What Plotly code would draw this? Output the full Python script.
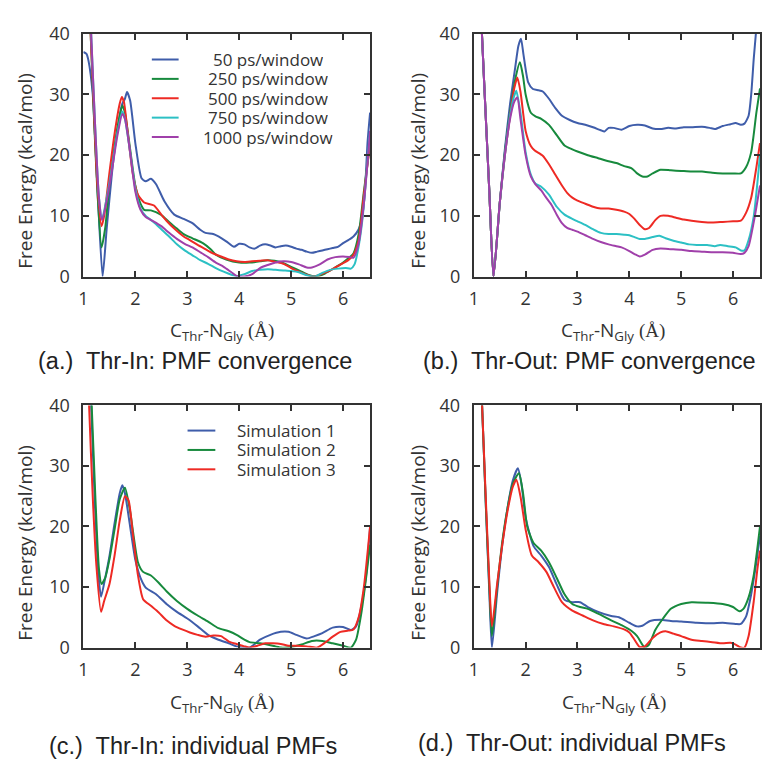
import plotly.graph_objects as go

# ---------------- data ----------------
# Panel (a) Thr-In: PMF convergence
a50_x = [1.0, 1.06, 1.1, 1.18, 1.28, 1.37, 1.45, 1.55, 1.65, 1.75, 1.8, 1.84, 1.9, 2.0, 2.12, 2.2, 2.3, 2.4, 2.56, 2.75, 2.93, 3.1, 3.25, 3.35, 3.5, 3.6, 3.75, 3.9, 4.0, 4.1, 4.2, 4.3, 4.4, 4.5, 4.6, 4.7, 4.8, 4.9, 5.0, 5.1, 5.2, 5.3, 5.4, 5.5, 5.6, 5.7, 5.8, 5.9, 6.0, 6.1, 6.2, 6.3, 6.36, 6.42, 6.47, 6.52]
a50_y = [37.0, 36.7, 35.5, 30.0, 13.0, 0.0, 8.0, 17.0, 24.0, 28.5, 29.3, 30.4, 29.0, 22.0, 16.2, 15.7, 16.1, 15.2, 12.4, 10.2, 9.5, 8.8, 7.7, 7.2, 7.0, 6.6, 5.8, 4.9, 5.4, 5.3, 4.8, 4.6, 5.1, 5.3, 5.1, 4.8, 5.0, 5.1, 4.9, 4.6, 4.4, 4.1, 3.9, 4.1, 4.3, 4.5, 4.7, 4.9, 5.5, 6.0, 6.6, 7.8, 9.5, 14.0, 22.0, 27.0]

a250_x = [1.1, 1.14, 1.2, 1.27, 1.35, 1.42, 1.5, 1.6, 1.7, 1.75, 1.8, 1.9, 2.0, 2.1, 2.17, 2.3, 2.49, 2.65, 2.8, 2.93, 3.1, 3.3, 3.45, 3.55, 3.75, 4.0, 4.2, 4.4, 4.55, 4.8, 5.0, 5.2, 5.35, 5.5, 5.65, 5.85, 6.0, 6.1, 6.2, 6.3, 6.4, 6.52]
a250_y = [46.0, 40.0, 27.0, 14.0, 4.8, 8.0, 15.0, 21.5, 26.5, 28.2, 27.0, 21.0, 15.0, 12.0, 11.0, 10.9, 10.2, 9.0, 7.9, 7.0, 6.3, 5.5, 4.5, 3.6, 2.8, 2.3, 2.3, 2.5, 2.7, 2.4, 1.6, 0.8, 0.2, 0.0, 0.5, 1.5, 2.3, 3.0, 3.8, 7.0, 14.0, 22.0]

a500_x = [1.1, 1.14, 1.2, 1.27, 1.35, 1.4, 1.5, 1.6, 1.7, 1.74, 1.78, 1.85, 1.95, 2.05, 2.17, 2.36, 2.5, 2.6, 2.75, 2.93, 3.05, 3.2, 3.35, 3.5, 3.65, 3.8, 3.95, 4.1, 4.25, 4.4, 4.55, 4.7, 4.85, 5.0, 5.15, 5.3, 5.42, 5.55, 5.7, 5.85, 6.0, 6.1, 6.2, 6.3, 6.4, 6.52]
a500_y = [46.0, 40.0, 28.0, 15.0, 8.3, 10.0, 17.0, 23.5, 28.5, 29.6, 28.8, 24.0, 17.0, 13.5, 12.2, 11.7, 10.2, 9.2, 7.9, 6.6, 6.0, 5.2, 4.5, 3.8, 3.3, 2.8, 2.5, 2.4, 2.5, 2.6, 2.7, 2.4, 2.1, 1.4, 0.8, 0.3, 0.0, 0.3, 0.8, 1.5, 2.2, 2.7, 3.6, 6.0, 13.5, 22.0]

a750_x = [1.12, 1.15, 1.22, 1.3, 1.36, 1.45, 1.55, 1.65, 1.75, 1.8, 1.9, 2.0, 2.1, 2.2, 2.35, 2.5, 2.65, 2.8, 2.95, 3.1, 3.25, 3.4, 3.55, 3.7, 3.85, 3.95, 4.1, 4.25, 4.4, 4.55, 4.7, 4.85, 5.0, 5.15, 5.3, 5.45, 5.6, 5.75, 5.9, 6.05, 6.15, 6.22, 6.3, 6.38, 6.45, 6.52]
a750_y = [46.0, 40.0, 26.0, 13.0, 9.5, 13.0, 18.0, 23.5, 27.2, 26.0, 20.5, 14.5, 11.2, 10.0, 9.0, 7.8, 6.6, 5.3, 4.3, 3.5, 2.7, 2.1, 1.4, 0.8, 0.3, 0.1, 0.4, 0.9, 1.1, 1.2, 1.1, 1.0, 0.9, 0.7, 0.2, 0.0, 0.6, 1.1, 1.3, 1.4, 1.3, 2.0, 5.0, 10.0, 17.0, 24.0]

a1000_x = [1.12, 1.15, 1.22, 1.3, 1.36, 1.45, 1.55, 1.65, 1.75, 1.8, 1.9, 2.0, 2.1, 2.2, 2.35, 2.5, 2.65, 2.8, 2.95, 3.1, 3.25, 3.4, 3.55, 3.7, 3.85, 3.95, 4.1, 4.25, 4.4, 4.55, 4.7, 4.85, 5.0, 5.15, 5.3, 5.4, 5.55, 5.7, 5.85, 6.0, 6.12, 6.2, 6.3, 6.4, 6.52]
a1000_y = [46.0, 40.0, 26.0, 13.0, 9.3, 12.5, 17.5, 23.0, 26.8, 26.0, 20.5, 14.0, 11.0, 9.8, 9.1, 8.3, 7.2, 6.2, 5.4, 4.8, 4.0, 3.2, 2.3, 1.6, 0.7, 0.1, 0.0, 0.4, 1.4, 1.9, 2.3, 2.5, 2.4, 2.0, 1.5, 1.5, 2.0, 2.8, 3.2, 3.3, 3.2, 3.1, 5.5, 12.0, 24.0]

# Panel (b) Thr-Out: PMF convergence
b50_x = [1.12, 1.2, 1.3, 1.38, 1.5, 1.6, 1.7, 1.8, 1.86, 1.91, 1.96, 2.05, 2.14, 2.25, 2.33, 2.45, 2.57, 2.7, 2.85, 3.0, 3.15, 3.3, 3.45, 3.52, 3.6, 3.7, 3.85, 4.0, 4.15, 4.3, 4.45, 4.6, 4.75, 4.9, 5.05, 5.2, 5.4, 5.55, 5.65, 5.8, 5.95, 6.05, 6.15, 6.22, 6.3, 6.35, 6.4, 6.45]
b50_y = [47.0, 32.0, 14.0, 0.0, 12.0, 21.0, 28.5, 34.5, 38.0, 39.2, 36.5, 32.0, 30.9, 30.7, 30.5, 29.3, 27.8, 26.5, 25.8, 25.3, 25.0, 24.6, 24.1, 23.9, 24.5, 24.5, 24.2, 24.8, 25.0, 24.9, 24.4, 24.3, 24.5, 24.4, 24.6, 24.6, 24.7, 24.5, 24.3, 24.8, 25.1, 25.3, 25.0, 25.2, 26.5, 30.0, 36.0, 41.0]

b250_x = [1.12, 1.2, 1.3, 1.38, 1.5, 1.6, 1.7, 1.8, 1.89, 1.95, 2.0, 2.1, 2.19, 2.3, 2.45, 2.6, 2.75, 2.89, 3.0, 3.2, 3.4, 3.6, 3.75, 3.9, 4.05, 4.15, 4.25, 4.35, 4.45, 4.6, 4.8, 5.0, 5.2, 5.4, 5.6, 5.8, 6.0, 6.15, 6.25, 6.35, 6.45, 6.52]
b250_y = [47.0, 32.0, 14.0, 0.0, 12.0, 20.5, 27.0, 32.5, 35.3, 33.0, 30.0, 27.0, 26.4, 26.0, 25.0, 23.3, 21.6, 21.0, 20.6, 20.0, 19.5, 19.0, 18.7, 18.2, 17.8, 17.0, 16.5, 16.5, 17.0, 17.6, 17.5, 17.4, 17.3, 17.3, 17.1, 17.0, 17.0, 17.0, 18.0, 20.5, 27.0, 31.0]

b500_x = [1.12, 1.2, 1.3, 1.38, 1.5, 1.6, 1.7, 1.78, 1.84, 1.9, 2.0, 2.1, 2.17, 2.33, 2.45, 2.57, 2.7, 2.8, 2.9, 3.0, 3.15, 3.3, 3.45, 3.6, 3.75, 3.9, 4.0, 4.1, 4.2, 4.3, 4.38, 4.5, 4.6, 4.75, 4.9, 5.05, 5.2, 5.4, 5.6, 5.8, 6.0, 6.15, 6.25, 6.35, 6.45, 6.52]
b500_y = [47.0, 32.0, 14.0, 0.0, 12.0, 20.0, 26.5, 31.0, 32.8, 30.5, 24.0, 21.5, 20.8, 19.9, 18.5, 16.8, 15.0, 13.8, 13.0, 12.5, 12.0, 11.5, 11.2, 11.2, 11.0, 10.7, 10.3, 9.5, 8.5, 7.8, 8.0, 9.3, 10.0, 10.0, 9.7, 9.4, 9.2, 9.0, 8.9, 9.0, 9.1, 9.2, 10.5, 13.0, 18.0, 22.0]

b750_x = [1.12, 1.2, 1.3, 1.38, 1.5, 1.6, 1.7, 1.77, 1.82, 1.9, 2.0, 2.1, 2.19, 2.3, 2.45, 2.6, 2.75, 2.9, 3.0, 3.15, 3.3, 3.45, 3.6, 3.75, 3.9, 4.0, 4.1, 4.2, 4.3, 4.45, 4.58, 4.7, 4.85, 5.0, 5.15, 5.3, 5.5, 5.65, 5.75, 5.9, 6.05, 6.15, 6.22, 6.3, 6.4, 6.52]
b750_y = [47.0, 32.0, 14.0, 0.0, 12.0, 20.0, 26.5, 29.5, 30.6, 27.0, 20.5, 16.8, 15.3, 14.8, 13.5, 11.5, 10.2, 9.5, 9.1, 8.5, 7.8, 7.2, 7.0, 7.0, 6.9, 6.8, 6.5, 6.2, 6.2, 6.5, 6.7, 6.3, 5.9, 5.6, 5.3, 5.2, 5.2, 5.0, 5.2, 5.0, 4.8, 4.3, 4.3, 6.0, 10.0, 20.0]

b1000_x = [1.12, 1.2, 1.3, 1.38, 1.5, 1.6, 1.7, 1.78, 1.84, 1.9, 2.0, 2.1, 2.19, 2.3, 2.38, 2.5, 2.6, 2.7, 2.8, 2.9, 3.0, 3.15, 3.3, 3.45, 3.6, 3.75, 3.85, 4.0, 4.1, 4.2, 4.3, 4.45, 4.6, 4.8, 5.0, 5.2, 5.4, 5.6, 5.8, 6.0, 6.15, 6.22, 6.3, 6.4, 6.52]
b1000_y = [47.0, 32.0, 14.0, 0.0, 12.0, 20.0, 26.0, 28.8, 29.5, 26.0, 20.0, 16.5, 15.2, 14.2, 13.2, 11.8, 10.2, 8.8, 8.0, 7.7, 7.4, 6.8, 6.2, 5.7, 5.3, 5.0, 4.8, 4.2, 3.7, 3.3, 3.6, 4.4, 4.6, 4.5, 4.4, 4.2, 4.1, 4.0, 4.0, 3.9, 3.7, 3.9, 5.0, 9.0, 15.0]

# Panel (c) Thr-In: individual PMFs
c1_x = [1.12, 1.15, 1.22, 1.29, 1.34, 1.42, 1.5, 1.6, 1.7, 1.75, 1.8, 1.9, 2.0, 2.1, 2.2, 2.4, 2.6, 2.8, 3.0, 3.2, 3.4, 3.6, 3.8, 3.95, 4.2, 4.4, 4.6, 4.8, 4.95, 5.1, 5.3, 5.45, 5.6, 5.8, 6.0, 6.15, 6.25, 6.35, 6.45, 6.52]
c1_y = [46.0, 40.0, 24.0, 12.0, 8.4, 11.5, 15.0, 20.5, 25.5, 26.8, 25.5, 20.0, 14.5, 11.5, 9.9, 8.8, 7.2, 5.9, 4.8, 3.5, 2.1, 1.3, 0.7, 0.2, 0.0, 1.3, 2.1, 2.6, 2.6, 2.1, 1.5, 1.9, 2.4, 3.3, 3.4, 2.9, 3.5, 6.7, 12.5, 20.0]

c2_x = [1.12, 1.16, 1.23, 1.3, 1.35, 1.42, 1.5, 1.6, 1.7, 1.8, 1.9, 2.05, 2.15, 2.3, 2.45, 2.6, 2.8, 3.0, 3.2, 3.4, 3.6, 3.8, 3.95, 4.1, 4.2, 4.4, 4.6, 4.8, 5.0, 5.2, 5.4, 5.6, 5.8, 6.0, 6.15, 6.25, 6.35, 6.45, 6.52]
c2_y = [47.0, 40.0, 25.0, 13.0, 10.5, 11.5, 14.5, 19.5, 24.5, 26.4, 22.5, 14.1, 12.5, 11.9, 10.7, 9.3, 7.7, 6.4, 5.3, 4.3, 3.2, 2.7, 2.1, 1.3, 0.9, 0.7, 0.4, 0.0, 0.1, 0.5, 1.1, 1.1, 0.7, 0.3, 0.0, 1.3, 5.6, 12.0, 17.0]

c3_x = [1.09, 1.11, 1.18, 1.25, 1.34, 1.4, 1.5, 1.6, 1.7, 1.8, 1.87, 1.95, 2.05, 2.15, 2.3, 2.45, 2.6, 2.75, 2.9, 3.05, 3.2, 3.35, 3.5, 3.65, 3.8, 3.95, 4.1, 4.2, 4.35, 4.5, 4.65, 4.8, 4.95, 5.1, 5.3, 5.5, 5.65, 5.8, 5.95, 6.1, 6.2, 6.3, 6.4, 6.52]
c3_y = [46.0, 40.0, 25.0, 13.6, 5.9, 7.7, 10.4, 15.2, 21.0, 25.0, 24.3, 18.9, 12.0, 8.0, 6.9, 5.8, 4.5, 3.6, 3.0, 2.5, 2.1, 1.8, 2.0, 1.9, 1.0, 0.6, 0.2, 0.0, 0.3, 0.7, 0.7, 0.6, 0.3, 0.3, 0.2, 0.0, 0.8, 1.8, 2.6, 2.8, 3.0, 5.0, 10.0, 20.0]

# Panel (d) Thr-Out: individual PMFs
d1_x = [1.13, 1.16, 1.23, 1.3, 1.35, 1.45, 1.55, 1.65, 1.75, 1.85, 1.92, 2.0, 2.15, 2.3, 2.45, 2.6, 2.75, 2.9, 3.05, 3.2, 3.4, 3.65, 3.8, 4.0, 4.15, 4.25, 4.4, 4.6, 4.8, 5.0, 5.3, 5.6, 5.8, 6.05, 6.15, 6.25, 6.35, 6.45, 6.52]
d1_y = [45.0, 40.0, 24.0, 9.0, 0.0, 9.0, 17.0, 23.0, 27.5, 29.6, 27.0, 21.5, 16.8, 15.2, 13.3, 10.4, 7.9, 7.5, 7.5, 6.7, 5.9, 5.2, 5.0, 4.1, 3.5, 3.6, 4.4, 4.6, 4.4, 4.3, 4.1, 4.0, 4.1, 3.9, 3.9, 5.1, 8.8, 14.1, 18.4]

d2_x = [1.13, 1.16, 1.23, 1.3, 1.35, 1.45, 1.55, 1.65, 1.75, 1.87, 1.95, 2.03, 2.15, 2.3, 2.45, 2.6, 2.75, 2.9, 3.05, 3.2, 3.4, 3.65, 3.85, 4.05, 4.15, 4.25, 4.3, 4.38, 4.5, 4.65, 4.8, 5.0, 5.2, 5.5, 5.8, 6.0, 6.12, 6.2, 6.3, 6.4, 6.52]
d2_y = [45.0, 40.0, 24.0, 10.0, 1.9, 10.0, 17.5, 23.0, 27.0, 28.8, 25.5, 20.0, 17.3, 16.0, 14.1, 11.5, 8.8, 7.2, 6.7, 6.4, 5.6, 4.5, 3.7, 2.7, 1.9, 0.5, 0.0, 0.5, 2.9, 4.8, 6.4, 7.2, 7.5, 7.4, 7.2, 6.7, 6.0, 6.4, 8.3, 12.0, 20.0]

d3_x = [1.13, 1.16, 1.23, 1.3, 1.35, 1.45, 1.55, 1.65, 1.75, 1.82, 1.9, 2.0, 2.12, 2.25, 2.4, 2.55, 2.7, 2.9, 3.1, 3.3, 3.5, 3.7, 3.9, 4.0, 4.1, 4.2, 4.3, 4.45, 4.6, 4.7, 4.85, 5.0, 5.2, 5.4, 5.6, 5.8, 5.95, 6.05, 6.15, 6.22, 6.3, 6.4, 6.47, 6.52]
d3_y = [46.0, 40.0, 25.0, 11.0, 3.5, 10.5, 17.0, 22.5, 26.5, 27.7, 25.0, 19.5, 15.2, 14.1, 12.5, 9.9, 7.5, 6.1, 5.3, 4.5, 3.9, 3.5, 3.0, 2.5, 1.3, 0.1, 0.2, 1.6, 2.5, 2.7, 2.3, 1.9, 1.3, 1.1, 0.9, 0.7, 0.8, 0.5, 0.0, 0.0, 1.9, 7.7, 13.0, 16.0]

conv_labels = ["50 ps/window", "250 ps/window", "500 ps/window", "750 ps/window", "1000 ps/window"]
sim_labels = ["Simulation 1", "Simulation 2", "Simulation 3"]
captions = ["(a.)  Thr-In: PMF convergence", "(b.)  Thr-Out: PMF convergence",
            "(c.)  Thr-In: individual PMFs", "(d.)  Thr-Out: individual PMFs"]
x_ticks = [1, 2, 3, 4, 5, 6]
y_ticks = [0, 10, 20, 30, 40]

# ---------------- styling ----------------
W, H = 762, 770
BLUE, GREEN, RED, CYAN, PURPLE = "#3F5DAA", "#178A3D", "#EE2A24", "#2CC0C4", "#A040AA"
conv_colors = [BLUE, GREEN, RED, CYAN, PURPLE]
sim_colors = [BLUE, GREEN, RED]
AX = "#333333"
TF = "Open Sans, Noto Sans, sans-serif"
CF = "Liberation Sans, Arial, sans-serif"

def px2x(p):
    return p / W

def px2y(p):
    return 1 - p / H

panels = {
    "a": ((79, 368), (21.5, 272)),
    "b": ((472.5, 761), (21.5, 272)),
    "c": ((79, 368), (405, 655)),
    "d": ((472.5, 761), (405, 655)),
}

fig = go.Figure()

series = {
    "a": [(a50_x, a50_y), (a250_x, a250_y), (a500_x, a500_y), (a750_x, a750_y), (a1000_x, a1000_y)],
    "b": [(b50_x, b50_y), (b250_x, b250_y), (b500_x, b500_y), (b750_x, b750_y), (b1000_x, b1000_y)],
    "c": [(c1_x, c1_y), (c2_x, c2_y), (c3_x, c3_y)],
    "d": [(d1_x, d1_y), (d2_x, d2_y), (d3_x, d3_y)],
}

layout_axes = {}
for i, key in enumerate(["a", "b", "c", "d"]):
    n = "" if i == 0 else str(i + 1)
    (x0, x1), (yt, yb) = panels[key]
    cols = conv_colors if key in ("a", "b") else sim_colors
    labels = conv_labels if key in ("a", "b") else sim_labels
    for (xs, ys), col, lab in zip(series[key], cols, labels):
        fig.add_trace(go.Scatter(x=xs, y=ys, mode="lines", name=lab,
                                 line=dict(color=col, width=2, shape="spline", smoothing=0.6),
                                 xaxis="x" + n, yaxis="y" + n, showlegend=False))
    common = dict(showline=True, linecolor=AX, linewidth=2, mirror="ticks",
                  ticks="inside", ticklen=6, tickwidth=1.5, tickcolor=AX,
                  showgrid=False, zeroline=False,
                  tickfont=dict(family=TF, size=18, color=AX))
    layout_axes["xaxis" + n] = dict(common, domain=[px2x(x0), px2x(x1)], range=[1, 6.52],
                                    tickvals=x_ticks, anchor="y" + n, ticklabelstandoff=5)
    layout_axes["yaxis" + n] = dict(common, domain=[px2y(yb), px2y(yt)], range=[0, 40],
                                    tickvals=y_ticks, anchor="x" + n, ticklabelstandoff=8)

fig.update_layout(**layout_axes)

annotations = []
shapes = []
xtitle = ('C<sub>Thr</sub>-N<sub>Gly</sub> '
          '<span style="font-family:Liberation Serif, serif">(Å)</span>')
ytitle_pos = [(20, 163), (416, 163), (20, 547), (416, 547)]
xtitle_pos = [(219, 328), (613, 328), (219, 712), (614, 712)]
cap_pos = [(192, 359), (589, 359), (189, 757), (572, 753)]
for k in range(4):
    yx, yy = ytitle_pos[k]
    annotations.append(dict(text="Free Energy (kcal/mol)", x=px2x(yx), y=px2y(yy),
                            xref="paper", yref="paper", showarrow=False, textangle=-90,
                            xanchor="center", yanchor="middle",
                            font=dict(family=TF, size=19, color=AX)))
    tx, ty = xtitle_pos[k]
    annotations.append(dict(text=xtitle, x=px2x(tx), y=px2y(ty), xref="paper", yref="paper",
                            showarrow=False, xanchor="center", yanchor="middle",
                            font=dict(family=TF, size=19, color=AX)))
    cx, cy = cap_pos[k]
    annotations.append(dict(text=captions[k], x=px2x(cx), y=px2y(cy), xref="paper", yref="paper",
                            showarrow=False, xanchor="center", yanchor="middle",
                            font=dict(family=CF, size=23.5, color="#222222")))

# legend (a)
for j, (lab, col) in enumerate(zip(conv_labels, conv_colors)):
    yrow = 48 + 20 * j
    shapes.append(dict(type="line", xref="paper", yref="paper",
                       x0=px2x(148), x1=px2x(175), y0=px2y(yrow), y1=px2y(yrow),
                       line=dict(color=col, width=2)))
    annotations.append(dict(text=lab, x=px2x(265), y=px2y(yrow), xref="paper", yref="paper",
                            showarrow=False, xanchor="center", yanchor="middle", height=19,
                            font=dict(family=TF, size=17, color=AX)))
# legend (c)
for j, (lab, col) in enumerate(zip(sim_labels, sim_colors)):
    yrow = 431 + 20 * j
    shapes.append(dict(type="line", xref="paper", yref="paper",
                       x0=px2x(184), x1=px2x(212), y0=px2y(yrow), y1=px2y(yrow),
                       line=dict(color=col, width=2)))
    annotations.append(dict(text=lab, x=px2x(232), y=px2y(yrow), xref="paper", yref="paper",
                            showarrow=False, xanchor="left", yanchor="middle", height=19,
                            font=dict(family=TF, size=17, color=AX)))

fig.update_layout(width=W, height=H, margin=dict(l=0, r=0, t=0, b=0),
                  paper_bgcolor="white", plot_bgcolor="white",
                  annotations=annotations, shapes=shapes, showlegend=False)

fig.write_html("out.html", config={"displayModeBar": False},
               post_script="document.body.style.margin='0';document.body.style.padding='0';"
                           "document.documentElement.style.overflow='hidden';")
